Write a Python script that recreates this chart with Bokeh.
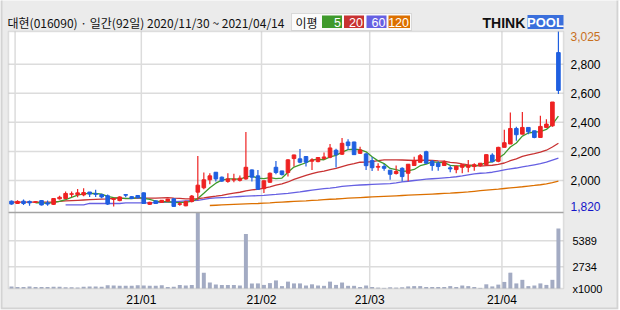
import numpy as np
import pandas as pd
from bokeh.plotting import figure
from bokeh.models import Range1d, Label, BoxAnnotation, ColumnDataSource
from bokeh.embed import file_html
from bokeh.resources import INLINE

# ---------------- data ----------------
opens = [1858, 1842, 1858, 1856, 1850, 1862, 1846, 1836, 1874, 1876,
         1905, 1903, 1901, 1921, 1909, 1903, 1895, 1870, 1862, 1903,
         1889, 1897, 1915, 1836, 1860, 1850, 1858, 1874, 1836, 1826,
         1856, 1920, 1950, 2005, 2057, 2023, 1994, 2003, 2001, 2011,
         2073, 2032, 1944, 1988, 2091, 2066, 2055, 2151, 2149, 2165,
         2133, 2130, 2151, 2160, 2208, 2181, 2265, 2265, 2187, 2183,
         2137, 2092, 2096, 2071, 2048, 2084, 2050, 2103, 2125, 2198,
         2132, 2119, 2103, 2087, 2075, 2091, 2091, 2096, 2103, 2109,
         2175, 2132, 2228, 2251, 2358, 2319, 2365, 2342, 2296, 2365,
         2376, 2880]
highs = [1862, 1864, 1870, 1862, 1858, 1866, 1862, 1878, 1895, 1925,
         1925, 1941, 1947, 1921, 1937, 1909, 1903, 1882, 1891, 1905,
         1893, 1901, 1917, 1854, 1862, 1866, 1874, 1876, 1852, 1860,
         1901, 2169, 2055, 2050, 2059, 2027, 2050, 2046, 2034, 2334,
         2075, 2073, 2000, 2055, 2135, 2068, 2146, 2178, 2217, 2167,
         2153, 2162, 2192, 2251, 2219, 2292, 2283, 2267, 2233, 2190,
         2162, 2119, 2114, 2071, 2103, 2091, 2114, 2164, 2182, 2205,
         2141, 2132, 2137, 2103, 2103, 2114, 2141, 2119, 2121, 2180,
         2187, 2233, 2349, 2467, 2369, 2472, 2365, 2342, 2445, 2422,
         2540, 3025]
lows = [1834, 1838, 1832, 1826, 1846, 1828, 1826, 1832, 1870, 1872,
        1887, 1885, 1891, 1887, 1887, 1878, 1832, 1822, 1858, 1885,
        1872, 1876, 1838, 1832, 1838, 1846, 1854, 1820, 1826, 1823,
        1848, 1864, 1940, 1974, 1993, 1990, 1984, 1988, 1994, 2005,
        1994, 1934, 1914, 1984, 2043, 2035, 2027, 2096, 2119, 2096,
        2073, 2125, 2142, 2153, 2089, 2176, 2210, 2176, 2183, 2073,
        2065, 2068, 2068, 2005, 2041, 1993, 1995, 2100, 2125, 2114,
        2068, 2068, 2100, 2057, 2050, 2050, 2057, 2068, 2096, 2105,
        2125, 2125, 2228, 2251, 2274, 2319, 2319, 2290, 2296, 2365,
        2369, 2595]
closes = [1838, 1856, 1842, 1846, 1854, 1832, 1838, 1876, 1885, 1911,
          1909, 1915, 1917, 1907, 1905, 1887, 1838, 1874, 1887, 1899,
          1876, 1881, 1842, 1850, 1842, 1864, 1872, 1822, 1840, 1856,
          1893, 1968, 2005, 2032, 2011, 1996, 2011, 2009, 2016, 2091,
          2023, 1940, 1998, 2050, 2055, 2041, 2142, 2176, 2126, 2126,
          2142, 2158, 2162, 2224, 2178, 2256, 2240, 2178, 2210, 2102,
          2088, 2097, 2084, 2043, 2062, 2027, 2112, 2137, 2171, 2119,
          2103, 2096, 2125, 2080, 2098, 2109, 2103, 2109, 2119, 2178,
          2130, 2228, 2260, 2358, 2315, 2365, 2335, 2296, 2372, 2388,
          2540, 2620]
# volume in thousands of shares
volumes = [709, 648, 648, 709, 648, 648, 648, 678, 678, 617,
           617, 586, 678, 709, 709, 678, 832, 801, 770, 770,
           770, 832, 801, 770, 770, 832, 648, 678, 862, 801,
           862, 8300, 2100, 1108, 893, 862, 862, 862, 801, 6100,
           1016, 1016, 862, 1047, 1323, 740, 1200, 1016, 1016, 801,
           924, 801, 770, 1200, 862, 1108, 770, 770, 648, 801,
           648, 586, 555, 617, 586, 617, 709, 740, 740, 648,
           648, 648, 648, 740, 648, 801, 740, 648, 555, 924,
           709, 893, 1169, 2120, 1016, 1384, 740, 801, 1016, 862,
           1384, 6650]
# 20-day average before enough closes are on the chart
ma20_early = [1852, 1852, 1852, 1852, 1852, 1852, 1852, 1852, 1856, 1860,
              1862, 1864, 1866, 1868, 1870, 1872, 1874, 1878, 1880]
ma60 = [None] * 9 + [1832, 1832, 1832, 1832,
                     1842, 1842, 1842, 1842, 1842, 1842,
                     1846, 1846, 1846, 1846, 1846,
                     1848, 1850, 1852, 1854, 1857, 1860, 1862, 1864, 1870, 1877,
                     1880, 1882, 1884, 1887, 1890, 1892, 1894, 1896, 1898, 1901,
                     1904, 1908, 1912, 1917, 1922, 1928, 1934, 1939, 1944, 1948,
                     1953, 1959, 1963, 1966, 1969, 1971, 1973, 1975, 1977, 1979,
                     1984, 1990, 1995, 2000, 2005, 2009, 2012, 2015, 2018, 2021,
                     2026, 2032, 2039, 2046, 2050, 2053, 2057, 2065, 2073, 2080,
                     2086, 2094, 2100, 2108, 2116, 2126, 2140, 2154]
ma120 = [None] * 33 + [1828, 1830, 1832, 1834, 1836, 1838, 1840, 1841, 1842, 1844,
                       1846, 1849, 1852, 1854, 1856, 1858, 1860, 1863, 1865, 1868,
                       1871, 1873, 1876, 1879, 1881, 1883, 1885, 1887, 1889, 1891,
                       1893, 1895, 1897, 1899, 1901, 1903, 1905, 1907, 1909, 1911,
                       1913, 1916, 1919, 1922, 1926, 1930, 1934, 1938, 1941, 1945,
                       1949, 1953, 1957, 1962, 1966, 1971, 1977, 1985, 1995]
price_ticks = [2000, 2200, 2400, 2600, 2800]
vol_ticks = [2734, 5389]
holidays = ["2020-12-25", "2020-12-31", "2021-01-01", "2021-02-11", "2021-02-12", "2021-03-01"]
title_text = "대현(016090) · 일간(92일) 2020/11/30 ~ 2021/04/14"
ma_names = ["5", "20", "60", "120"]

n = len(closes)
for arr in (opens, highs, lows, volumes, ma60, ma120):
    assert len(arr) == n

dates = pd.bdate_range("2020-11-30", "2021-04-14")
dates = dates[~dates.isin(pd.to_datetime(holidays))]
assert len(dates) == n
month_idx = [i for i in range(1, n) if dates[i].month != dates[i - 1].month]

idx = np.arange(n)
o = np.array(opens, float)
c = np.array(closes, float)
cl = pd.Series(closes, dtype=float)
ma5 = cl.rolling(5).mean().values
ma20 = cl.rolling(20).mean().values
ma20[:len(ma20_early)] = ma20_early
ma60_a = np.array([np.nan if v is None else v for v in ma60], float)
ma120_a = np.array([np.nan if v is None else v for v in ma120], float)

# ---------------- layout (canvas pixels) ----------------
W, H = 620, 310
F_L, F_R, F_T, F_SEP, F_B = 8, 563, 31, 212, 288
STEP = 6.01                      # px per trading day
price_hi = max(highs)
price_panel_lo = 1780.0
ppu = (F_SEP - F_T) / (price_hi - price_panel_lo)      # px per won
vol_lo, vol_panel_hi = 494.0, 8300.0
vpu = (F_B - F_SEP) / (vol_panel_hi - vol_lo)          # px per 1000 shares

x_lo = -0.5 - F_L / STEP
x_hi = -0.5 + (W - F_L) / STEP
y_hi = price_hi + F_T / ppu
y_lo = price_hi - (H - F_T) / ppu
v_hi = vol_lo + F_B / vpu
v_lo = vol_lo - (H - F_B) / vpu

panel_x0, panel_x1 = -0.5, -0.5 + (F_R - F_L) / STEP
panel_bottom_price = price_hi - (F_B - F_T) / ppu

RED = "#ee2222"; BLUE = "#1f5fe0"; VOLC = "#a3abc3"
GRID = "#dcdcdc"; EDGE = "#a4a4a4"; BG = "#ebebeb"
MA_COLORS = ["#3f9a2c", "#c83232", "#6660e2", "#dc7000"]

p = figure(width=W, height=H, output_backend="svg", toolbar_location=None,
           x_range=Range1d(x_lo, x_hi), y_range=Range1d(y_lo, y_hi),
           x_axis_location=None, y_axis_location=None,
           min_border=0, background_fill_color=BG, border_fill_color=BG)
p.extra_y_ranges = {"vol": Range1d(v_lo, v_hi)}
p.grid.visible = False
p.outline_line_color = None


def sx(cx):
    return cx


def sy(cy):
    return H - cy


def sbox(l, r, t, b, **kw):
    return BoxAnnotation(left=sx(l), right=sx(r), top=sy(t), bottom=sy(b),
                         left_units="screen", right_units="screen",
                         top_units="screen", bottom_units="screen", **kw)


# white chart panel
p.add_layout(sbox(F_L, F_R, F_T, F_B, fill_color="white", fill_alpha=1,
                  line_color=None, level="image"))

# grid
p.segment(x0=panel_x0, x1=panel_x1, y0=price_ticks, y1=price_ticks,
          line_color=GRID, line_width=1.5, level="underlay")
p.segment(x0=panel_x0, x1=panel_x1, y0=vol_ticks, y1=vol_ticks, y_range_name="vol",
          line_color=GRID, line_width=1.5, level="underlay")
grid_x = [m - 0.4 for m in month_idx]
p.segment(x0=grid_x, x1=grid_x, y0=panel_bottom_price, y1=price_hi,
          line_color=GRID, line_width=1.5, level="underlay")

# volume
p.vbar(x=idx, width=0.66, top=volumes, bottom=vol_lo, y_range_name="vol",
       fill_color=VOLC, line_color=None)

# moving averages
for ser, col in zip([ma120_a, ma60_a, ma20, ma5], MA_COLORS[::-1]):
    p.line(idx, ser, line_color=col, line_width=1.3)

# candles
colors = [RED if cc >= oo else BLUE for oo, cc in zip(o, c)]
src = ColumnDataSource(dict(x=idx, h=highs, l=lows, top=np.maximum(o, c),
                            bot=np.minimum(o, c), col=colors))
p.segment(x0="x", y0="l", x1="x", y1="h", line_color="col", line_width=1.2, source=src)
p.vbar(x="x", width=0.6, top="top", bottom="bot", fill_color="col",
       line_color="col", line_width=1, source=src)

# panel outline + separator
p.add_layout(sbox(F_L, F_R, F_T, F_B, fill_alpha=0, line_color=EDGE, line_width=1.5,
                  level="overlay"))
p.segment(x0=panel_x0, x1=panel_x1, y0=price_panel_lo, y1=price_panel_lo,
          line_color=EDGE, line_width=1.5, level="overlay")

# outer frame of the picture
p.add_layout(sbox(1, 617, -6, 308, fill_alpha=0, line_color="#9a9a9a", line_width=2,
                  level="overlay"))
p.add_layout(sbox(618, 626, -6, 316, fill_color="white", fill_alpha=1, line_color=None,
                  level="overlay"))
p.add_layout(sbox(-6, 626, 309, 316, fill_color="white", fill_alpha=1, line_color=None,
                  level="overlay"))

# right-hand price labels
NUMF = "Liberation Sans"
for t in price_ticks:
    p.add_layout(Label(x=sx(570), x_units="screen", y=t, text=f"{t:,}",
                       text_baseline="middle", text_font=NUMF, text_font_size="12px",
                       text_color="#000000"))
p.add_layout(Label(x=sx(570), y=price_hi, x_units="screen", text=f"{max(highs):,}",
                   text_baseline="top", text_font=NUMF, text_font_size="12px",
                   text_color="#c8701e"))
p.add_layout(Label(x=sx(570), y=min(lows), x_units="screen", text=f"{min(lows):,}",
                   text_baseline="middle", text_font=NUMF, text_font_size="12px",
                   text_color="#1414c8"))
# volume labels
for t in vol_ticks:
    p.add_layout(Label(x=sx(572), y=t, x_units="screen", y_range_name="vol", text=str(t),
                       text_baseline="middle", text_font=NUMF, text_font_size="11px",
                       text_color="#000000"))
p.add_layout(Label(x=sx(572), y=vol_lo, x_units="screen", y_range_name="vol", text="x1000",
                   text_baseline="middle", text_font=NUMF, text_font_size="11px",
                   text_color="#000000"))
# date labels
for m in month_idx[1:]:
    p.add_layout(Label(x=m - 0.4, y=sy(299), y_units="screen", text=dates[m].strftime("%y/%m"),
                       text_align="center", text_baseline="middle", text_font=NUMF,
                       text_font_size="12px", text_color="#000000"))

# title
p.add_layout(Label(x=sx(7), y=sy(22), x_units="screen", y_units="screen", text=title_text,
                   text_baseline="middle", text_font="Noto Sans CJK KR", text_font_size="12px",
                   text_color="#111111"))

# moving-average legend
p.add_layout(sbox(291, 411, 13, 30, fill_color="#fbfbfb", fill_alpha=1,
                  line_color="#a0a0a0", line_width=1))
p.add_layout(Label(x=sx(295), y=sy(21.5), x_units="screen", y_units="screen", text="이평",
                   text_baseline="middle", text_font="Noto Sans CJK KR", text_font_size="12px",
                   text_color="#111111"))
chips = [(321.5, 341.5), (343.5, 363.5), (366, 386), (388, 409.5)]
for (l, r), name, col in zip(chips, ma_names, MA_COLORS):
    p.add_layout(sbox(l, r, 15, 27.5, fill_color=col, fill_alpha=1, line_color=None))
    p.add_layout(Label(x=sx(r - 1), y=sy(21.5), x_units="screen", y_units="screen", text=name,
                       text_align="right", text_baseline="middle", text_font=NUMF,
                       text_font_size="12.5px", text_color="white"))

# logo
p.add_layout(Label(x=sx(482), y=sy(22), x_units="screen", y_units="screen", text="THINK",
                   text_baseline="middle", text_font=NUMF, text_font_style="bold",
                   text_font_size="14px", text_color="#111111"))
p.add_layout(sbox(527, 563, 14.5, 28.5, fill_color="#3a6fdc", fill_alpha=1, line_color=None))
p.add_layout(Label(x=sx(545), y=sy(22), x_units="screen", y_units="screen", text="POOL",
                   text_align="center", text_baseline="middle", text_font=NUMF,
                   text_font_style="bold", text_font_size="13px", text_color="white"))

open("out.html", "w").write(file_html(p, INLINE))
